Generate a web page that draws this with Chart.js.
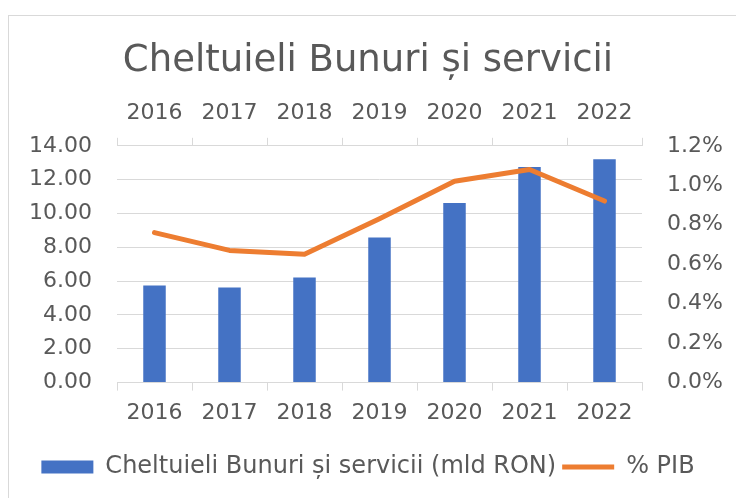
<!DOCTYPE html>
<html>
<head>
<meta charset="utf-8">
<script src="https://cdn.jsdelivr.net/npm/chart.js@4"></script>
<style>
  html, body { margin: 0; padding: 0; background: #fff; }
  #wrap { position: relative; width: 736px; height: 498px; overflow: hidden; }
  #frame { position: absolute; left: 8px; top: 15px; width: 760px; height: 520px; border: 1px solid #d9d9d9; pointer-events: none; }
</style>
</head>
<body>
<div id="wrap">
  <canvas id="chart" width="736" height="498"></canvas>
  <div id="frame"></div>
</div>
<script>
const years = ['2016', '2017', '2018', '2019', '2020', '2021', '2022'];
const spending = [5.74, 5.62, 6.21, 8.58, 10.62, 12.75, 13.21]; // mld RON
const gdpShare = [0.76, 0.67, 0.65, 0.83, 1.02, 1.08, 0.92];   // % PIB
const leftTicks = [0, 2, 4, 6, 8, 10, 12, 14];
const rightTicks = [0, 0.2, 0.4, 0.6, 0.8, 1.0, 1.2];

const textColor = '#595959';
const gridColor = '#d9d9d9';
const font = 'DejaVu Sans';

const ctx = document.getElementById('chart').getContext('2d');
new Chart(ctx, {
  type: 'bar',
  data: {
    labels: years,
    datasets: [
      {
        type: 'line',
        label: '% PIB',
        data: gdpShare,
        yAxisID: 'y1',
        borderColor: '#ED7D31',
        backgroundColor: '#ED7D31',
        borderWidth: 5,
        borderCapStyle: 'round',
        borderJoinStyle: 'round',
        pointRadius: 0,
        tension: 0,
        order: 0,
      },
      {
        label: 'Cheltuieli Bunuri și servicii (mld RON)',
        data: spending,
        yAxisID: 'y',
        backgroundColor: '#4472C4',
        borderWidth: 0,
        categoryPercentage: 1,
        barPercentage: 0.3,
        order: 1,
      },
    ],
  },
  options: {
    responsive: false,
    animation: false,
    layout: { padding: { left: 0, right: 0, top: 39, bottom: 9 } },
    plugins: {
      title: {
        display: true,
        text: 'Cheltuieli Bunuri și servicii',
        color: textColor,
        font: { family: font, size: 37, weight: 'normal' },
        padding: { top: 0, bottom: 6 },
      },
      legend: {
        position: 'bottom',
        reverse: true,
        labels: {
          color: textColor,
          font: { family: font, size: 24 },
          usePointStyle: true,
          pointStyleWidth: 52,
          boxHeight: 13,
          padding: 6,
          generateLabels: (chart) => {
            const items = Chart.defaults.plugins.legend.labels.generateLabels(chart);
            items.forEach((it) => {
              const ds = chart.data.datasets[it.datasetIndex];
              it.pointStyle = ds.type === 'line' ? 'line' : 'rect';
              if (ds.type !== 'line') it.lineWidth = 0;
            });
            return items;
          },
        },
      },
      tooltip: { enabled: false },
    },
    scales: {
      x: {
        position: 'bottom',
        grid: { drawOnChartArea: false, color: gridColor, tickLength: 8 },
        border: { color: gridColor },
        ticks: { color: textColor, font: { family: font, size: 22 }, padding: 9, maxRotation: 0 },
        afterFit: (axis) => { axis.height += 14; },
      },
      xTop: {
        type: 'category',
        position: 'top',
        labels: years,
        offset: true,
        grid: { drawOnChartArea: false, color: gridColor, tickLength: 8, offset: true },
        border: { color: gridColor },
        ticks: { color: textColor, font: { family: font, size: 22 }, padding: 11, maxRotation: 0 },
      },
      y: {
        position: 'left',
        min: 0,
        max: 14,
        afterBuildTicks: (axis) => { axis.ticks = leftTicks.map((v) => ({ value: v })); },
        afterFit: (axis) => { axis.width = 117; },
        grid: { color: gridColor, drawTicks: false },
        border: { display: false },
        ticks: {
          color: textColor,
          font: { family: font, size: 22 },
          padding: 25,
          callback: (v) => v.toFixed(2),
        },
      },
      y1: {
        position: 'right',
        min: 0,
        max: 1.2,
        afterBuildTicks: (axis) => { axis.ticks = rightTicks.map((v) => ({ value: v })); },
        afterFit: (axis) => { axis.width = 94; },
        grid: { drawOnChartArea: false, drawTicks: false },
        border: { display: false },
        ticks: {
          color: textColor,
          font: { family: font, size: 22 },
          padding: 25,
          callback: (v) => v.toFixed(1) + '%',
        },
      },
    },
  },
});
</script>
</body>
</html>
